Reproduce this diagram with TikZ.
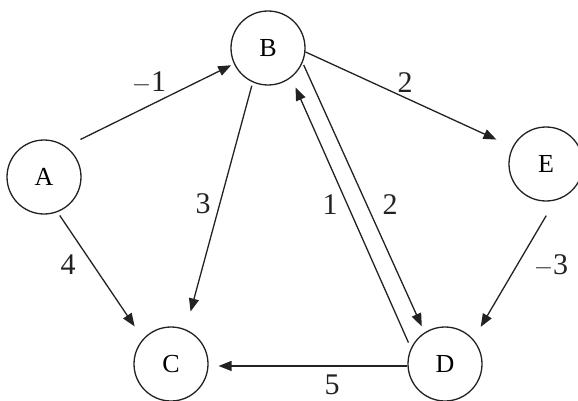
\documentclass[tikz,border=0pt]{standalone}
\usepackage{fontspec}
\setmainfont{Liberation Serif}
\usetikzlibrary{arrows.meta}
\definecolor{ink}{HTML}{222222}
\tikzset{
  vtx/.style={circle, draw=ink, line width=1.3pt, minimum size=74pt, inner sep=0pt, font=\fontsize{26}{26}\selectfont},
  arc/.style={draw=ink, line width=1.3pt, -{Triangle[length=13pt,width=10pt]}},
  wt/.style={font=\fontsize{30}{30}\selectfont, text=ink, inner sep=0pt}
}
\begin{document}
\begin{tikzpicture}[x=1pt,y=-1pt]
\useasboundingbox (0,0) rectangle (578,401);
\node[vtx] (A) at (44,177) {A};
\node[vtx] (B) at (268,48) {B};
\node[vtx] (C) at (171,364) {C};
\node[vtx] (D) at (445,364) {D};
\node[vtx] (E) at (546,164) {E};

\draw[arc, shorten <=16pt, shorten >=3pt] (A.54) -- (B.205);
\draw[arc, shorten >=17.6pt] (B.-6) -- (E.153);
\draw[arc, shorten <=3.4pt, shorten >=18.5pt] (B.-114) -- (C.67.6);
\draw[arc, shorten <=4pt, shorten >=15pt] (A.-69.7) -- (C.138.3);
\draw[arc, shorten <=6pt, shorten >=10.7pt] (D.155.2) -- (B.-52.2);
\draw[arc, shorten <=2.5pt, shorten >=6.6pt] (B.-23.4) -- (D.123.2);
\draw[arc, shorten <=17.5pt, shorten >=14.4pt] (E.-76) -- (D.41.6);
\draw[arc, shorten >=10pt] (D.183) -- (C.-3);

\node[wt] (w1) at (149,83) {$-$1};
\node[wt] (w2) at (405,83) {2};
\node[wt] (w3) at (203,204) {3};
\node[wt] (w4) at (68,265) {4};
\node[wt] (w5) at (330,205) {1};
\node[wt] (w6) at (390,205) {2};
\node[wt] (w7) at (551,266) {$-$3};
\node[wt] (w8) at (332,385) {5};
\end{tikzpicture}
\end{document}
